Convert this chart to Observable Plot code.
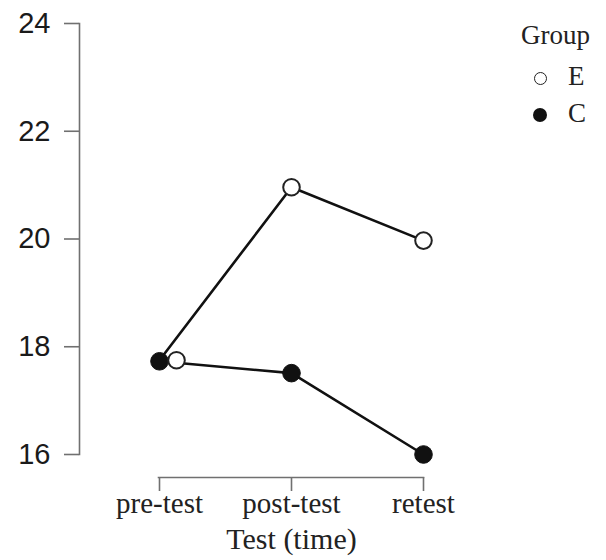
<!DOCTYPE html>
<html><head><meta charset="utf-8">
<script src="https://cdn.jsdelivr.net/npm/d3@7"></script>
<script src="https://cdn.jsdelivr.net/npm/@observablehq/plot@0.6"></script>
<style>
body{margin:0;background:#fff}
#wrap{position:relative;width:606px;height:560px;background:#fff}
.lg{position:absolute;font-family:"Liberation Serif",serif;font-size:27px;line-height:27px;color:#222;white-space:nowrap}
.sw{position:absolute;box-sizing:border-box;border-radius:50%}
</style></head><body><div id="wrap"></div>
<script>
const tests = ["pre-test", "post-test", "retest"];
const groups = ["E", "C"];
const scoreE = [17.75, 20.96, 19.97];
const scoreC = [17.73, 17.51, 16.0];
const yTicks = [16, 18, 20, 22, 24];
const legendTitle = "Group";
const xTitle = "Test (time)";

const fills = {E: "white", C: "#111"};
const data = [];
tests.forEach((t, i) => {
  data.push({test: t, group: "E", score: scoreE[i]});
  data.push({test: t, group: "C", score: scoreC[i]});
});
const firstE = data.filter(d => d.group === "E" && d.test === tests[0]);
const restE = data.filter(d => d.group === "E" && d.test !== tests[0]);
const dotsC = data.filter(d => d.group === "C");

const axisGrey = "#707070";
const chart = Plot.plot({
  width: 606, height: 560,
  marginLeft: 79, marginRight: 183, marginTop: 23, marginBottom: 83,
  style: {background: "white"},
  x: {type: "point", domain: tests, padding: 0, insetLeft: 79},
  y: {domain: [yTicks[0], yTicks[yTicks.length - 1]], insetBottom: 23},
  marks: [
    Plot.frame({anchor: "left", insetBottom: 23, stroke: axisGrey, strokeWidth: 1.6}),
    Plot.frame({anchor: "bottom", insetLeft: 79, stroke: axisGrey, strokeWidth: 1.6}),
    Plot.axisY(yTicks, {tickSize: 15, tickPadding: 14, stroke: axisGrey, strokeWidth: 1.6,
      tickFormat: d => String(d),
      fontSize: 29, fontFamily: "Liberation Sans, Arial, sans-serif", fill: "#1a1a1a", label: null}),
    Plot.axisX(tests, {tickSize: 14, tickPadding: 1, stroke: axisGrey, strokeWidth: 1.6,
      fontSize: 29, fontFamily: "Liberation Serif, Times New Roman, serif", fill: "#222", label: null}),
    Plot.text([xTitle], {x: () => tests[1], frameAnchor: "bottom", lineAnchor: "top", dy: 50,
      fontSize: 30, fontFamily: "Liberation Serif, Times New Roman, serif", fill: "#222", text: d => d}),
    Plot.line(data, {x: "test", y: "score", z: "group", stroke: "#111", strokeWidth: 2.6}),
    Plot.dot(dotsC, {x: "test", y: "score", r: 8.8, fill: fills.C, stroke: "#111", strokeWidth: 1}),
    Plot.dot(restE, {x: "test", y: "score", r: 8.3, fill: fills.E, stroke: "#222", strokeWidth: 2}),
    Plot.dot(firstE, {x: "test", y: "score", dx: 17, r: 8.3, fill: fills.E, stroke: "#222", strokeWidth: 2})
  ]
});
const wrap = document.getElementById("wrap");
wrap.appendChild(chart);

// legend overlay
function add(cls, css, txt) {
  const el = document.createElement("div");
  el.className = cls;
  Object.assign(el.style, css);
  if (txt != null) el.textContent = txt;
  wrap.appendChild(el);
}
add("lg", {left: "521px", top: "22px"}, legendTitle);
const rowTops = [63, 100];
groups.forEach((g, i) => {
  const cy = rowTops[i] + 15;
  const r = g === "E" ? 6.5 : 7;
  add("sw", {left: (540 - r) + "px", top: (cy - r) + "px", width: 2 * r + "px", height: 2 * r + "px",
    background: fills[g], border: g === "E" ? "1.5px solid #222" : "none"});
  add("lg", {left: "568px", top: rowTops[i] + "px"}, g);
});
</script></body></html>
